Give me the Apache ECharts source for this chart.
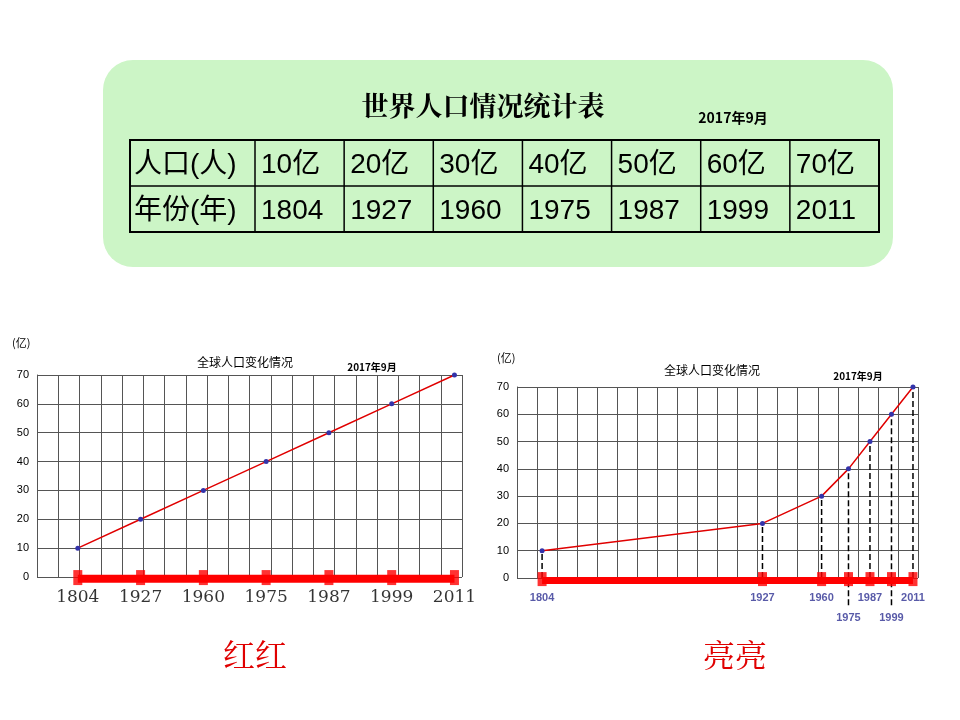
<!DOCTYPE html>
<html><head><meta charset="utf-8">
<script src="https://cdn.jsdelivr.net/npm/echarts@6/dist/echarts.min.js"></script>
<style>html,body{margin:0;background:#fff}#c{width:960px;height:720px}</style>
</head><body><div id="c"></div>
<script>
const years = [1804,1927,1960,1975,1987,1999,2011];
const pop = [10,20,30,40,50,60,70];
const popLabels = ['10亿','20亿','30亿','40亿','50亿','60亿','70亿'];
const yTicks = [0,10,20,30,40,50,60,70];
const lowYears = [1975,1999];

const chart = echarts.init(document.getElementById('c'));
const serif = '"DejaVu Serif","Liberation Serif",serif';
const cjk = '"Noto Sans CJK SC",sans-serif';

const g = [];
g.push({type:'rect',shape:{x:103,y:60,width:790,height:207,r:30},style:{fill:'#ccf5c6'}});
g.push({type:'text',style:{x:483,y:106,text:'世界人口情况统计表',font:'bold 27px "Noto Serif CJK SC","Noto Sans CJK SC",serif',fill:'#000',align:'center',verticalAlign:'middle'}});
g.push({type:'text',style:{x:733,y:118,text:'2017年9月',font:'bold 14px '+cjk,fill:'#000',align:'center',verticalAlign:'middle'}});
const tx=130, ty=140, tw=749, rowH=46, c0=125, cw=(tw-c0)/7;
g.push({type:'rect',shape:{x:tx,y:ty,width:tw,height:rowH*2},style:{fill:'none',stroke:'#000',lineWidth:2}});
g.push({type:'line',shape:{x1:tx,y1:ty+rowH,x2:tx+tw,y2:ty+rowH},style:{stroke:'#000',lineWidth:1.5}});
for(let i=0;i<7;i++){const x=tx+c0+cw*i;g.push({type:'line',shape:{x1:x,y1:ty,x2:x,y2:ty+rowH*2},style:{stroke:'#000',lineWidth:1.5}});}
const rows=[['人口(人)'].concat(popLabels),['年份(年)'].concat(years.map(String))];
rows.forEach((r,ri)=>r.forEach((t,ci)=>{
  const x = ci===0? tx+4 : tx+c0+cw*(ci-1)+6;
  g.push({type:'text',style:{x:x,y:ty+rowH*ri+rowH/2+2,text:t,font:'28px "Liberation Sans","Noto Sans CJK SC",sans-serif',fill:'#000',verticalAlign:'middle'}});
}));
g.push({type:'text',style:{x:12,y:343,text:'(亿)',font:'11px '+cjk,fill:'#000',verticalAlign:'middle'}});
g.push({type:'text',style:{x:245,y:362,text:'全球人口变化情况',font:'12px '+cjk,fill:'#000',align:'center',verticalAlign:'middle'}});
g.push({type:'text',style:{x:372,y:367,text:'2017年9月',font:'bold 10px '+cjk,fill:'#000',align:'center',verticalAlign:'middle'}});
g.push({type:'text',style:{x:497,y:358,text:'(亿)',font:'11px '+cjk,fill:'#000',verticalAlign:'middle'}});
g.push({type:'text',style:{x:712,y:370,text:'全球人口变化情况',font:'12px '+cjk,fill:'#000',align:'center',verticalAlign:'middle'}});
g.push({type:'text',style:{x:858,y:376,text:'2017年9月',font:'bold 10px '+cjk,fill:'#000',align:'center',verticalAlign:'middle'}});
g.push({type:'text',style:{x:255,y:655,text:'红红',font:'32px "Noto Serif CJK SC","Noto Sans CJK SC",serif',fill:'#e00000',align:'center',verticalAlign:'middle'}});
g.push({type:'text',style:{x:735,y:655,text:'亮亮',font:'32px "Noto Serif CJK SC","Noto Sans CJK SC",serif',fill:'#e00000',align:'center',verticalAlign:'middle'}});

const gridAx = gi => ({type:'value',gridIndex:gi,min:0,max:20,interval:1,axisLabel:{show:false},axisTick:{show:false},axisLine:{show:false},splitLine:{show:true,lineStyle:{color:'#555',width:1}}});
const yAx = (gi,xi) => ({type:'value',gridIndex:gi,min:0,max:70,interval:10,axisLabel:{fontSize:11,color:'#000',margin:8},axisTick:{show:false},axisLine:{show:true,onZero:false,lineStyle:{color:'#555'}},splitLine:{show:true,lineStyle:{color:'#555',width:1}}});

const idx = years.map((y,i)=>i);
const lowSet = new Set(lowYears);

const dashSeries = years.map((y,i)=>({type:'line',xAxisIndex:2,yAxisIndex:1,clip:false,symbol:'none',silent:true,
  data:[[y,lowSet.has(y)?-10:0],[y,pop[i]]],lineStyle:{color:'#000',type:'dashed',width:1.5},z:3}));

chart.setOption({
  animation:false,
  graphic:g,
  grid:[{left:37,top:375,width:425,height:202},{left:517,top:387,width:401,height:191}],
  xAxis:[
    {type:'value',gridIndex:0,min:-0.65,max:6.12,show:false},
    gridAx(0),
    {type:'value',gridIndex:1,min:1790,max:2013.8,show:false},
    gridAx(1)
  ],
  yAxis:[yAx(0),yAx(1)],
  series:[
    {type:'line',xAxisIndex:0,yAxisIndex:0,data:idx.map(i=>[i,pop[i]]),lineStyle:{color:'#e00000',width:1.5},symbol:'circle',symbolSize:5,itemStyle:{color:'#3333aa'},z:5},
    {type:'line',xAxisIndex:0,yAxisIndex:0,data:[[0,-0.6],[6,-0.6]],clip:false,symbol:'none',lineStyle:{color:'#ff0000',width:8},z:4},
    {type:'scatter',xAxisIndex:0,yAxisIndex:0,data:idx.map(i=>[i,-0.2]),clip:false,symbol:'rect',symbolSize:[9,15],itemStyle:{color:'#ff0000'},z:4},
    {type:'scatter',xAxisIndex:0,yAxisIndex:0,data:idx.map(i=>[i,-7.3]),clip:false,symbolSize:0,
      label:{show:true,position:'inside',formatter:p=>years[p.dataIndex],
        rich:{},fontFamily:serif,fontSize:17,color:'#000'}},
    {type:'line',xAxisIndex:2,yAxisIndex:1,data:years.map((y,i)=>[y,pop[i]]),lineStyle:{color:'#e00000',width:1.5},symbol:'circle',symbolSize:5,itemStyle:{color:'#3333aa'},z:5},
    {type:'line',xAxisIndex:2,yAxisIndex:1,data:[[1804,-0.9],[2011,-0.9]],clip:false,symbol:'none',lineStyle:{color:'#ff0000',width:7},z:4},
    {type:'scatter',xAxisIndex:2,yAxisIndex:1,data:years.map(y=>[y,-0.4]),clip:false,symbol:'rect',symbolSize:[9,14],itemStyle:{color:'#ff0000'},z:4},
    {type:'scatter',xAxisIndex:2,yAxisIndex:1,data:years.map(y=>[y,lowSet.has(y)?-14.6:-7.3]),clip:false,symbolSize:0,
      label:{show:true,position:'inside',formatter:p=>years[p.dataIndex],fontWeight:'bold',fontSize:11,color:'#2e3192'}}
  ].concat(dashSeries)
});
</script></body></html>
